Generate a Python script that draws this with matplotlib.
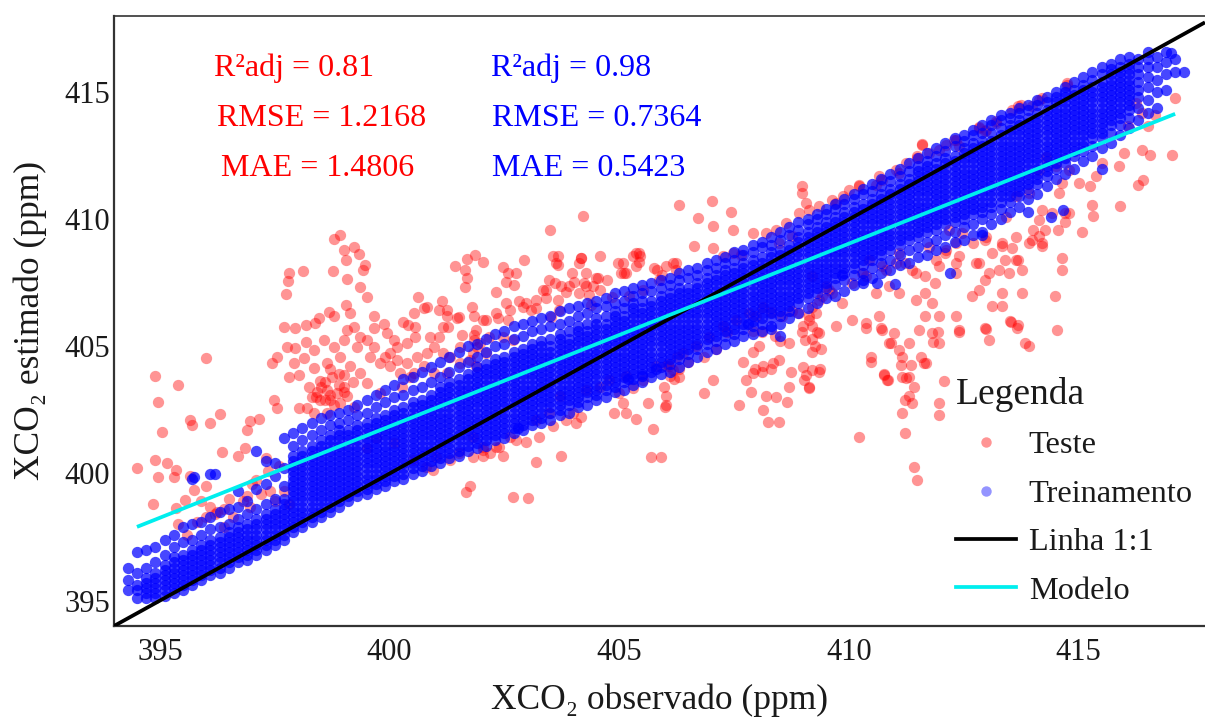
import matplotlib
matplotlib.use("Agg")
import matplotlib.pyplot as plt
from matplotlib.lines import Line2D

plt.rcParams['font.family'] = ['Liberation Serif', 'DejaVu Serif']

# ---------------- data ----------------
# Training points: (observed x, [estimated y values]) by column
train_cols = [
    (394.3, [395.4, 395.8, 396.3]),
    (394.5, [395.1, 395.4, 395.6, 396.1, 396.9]),
    (394.7, [395.1, 395.3, 395.5, 395.7, 395.9, 396.3, 397.0]),
    (394.9, [395.1, 395.3, 395.5, 395.7, 395.9, 396.1, 396.5, 397.1]),
    (395.1, [395.2, 395.4, 395.6, 395.8, 396.0, 396.2, 396.4, 396.8, 397.4]),
    (395.3, [395.3, 395.5, 395.7, 395.9, 396.1, 396.3, 396.5, 396.7, 397.1, 397.6]),
    (395.5, [395.4, 395.6, 395.8, 396.0, 396.2, 396.4, 396.6, 396.8, 397.3, 397.9]),
    (395.7, [395.6, 395.8, 396.0, 396.2, 396.4, 396.6, 396.8, 397.0, 397.4, 398.0, 399.8]),
    (395.9, [395.8, 396.0, 396.2, 396.4, 396.6, 396.8, 397.0, 397.2, 397.6, 398.1]),
    (396.1, [396.0, 396.2, 396.4, 396.6, 396.8, 397.0, 397.2, 397.4, 397.8, 398.3, 400.0]),
    (396.3, [396.1, 396.3, 396.5, 396.7, 396.9, 397.1, 397.3, 397.5, 397.9, 398.5]),
    (396.5, [396.3, 396.5, 396.7, 396.9, 397.1, 397.3, 397.5, 397.7, 398.0, 398.6]),
    (396.7, [396.5, 396.7, 396.9, 397.1, 397.3, 397.5, 397.7, 397.9, 398.2, 398.7, 399.3]),
    (396.9, [396.6, 396.8, 397.0, 397.2, 397.4, 397.6, 397.8, 398.0, 398.4, 398.9]),
    (397.1, [396.8, 397.0, 397.2, 397.4, 397.6, 397.8, 398.0, 398.2, 398.6, 399.4, 400.9]),
    (397.3, [397.0, 397.2, 397.4, 397.6, 397.8, 398.0, 398.2, 398.4, 398.8, 399.6, 400.5]),
    (397.5, [397.2, 397.4, 397.6, 397.8, 398.0, 398.2, 398.4, 398.6, 399.0, 399.9, 400.4]),
    (397.7, [397.4, 397.6, 397.8, 398.0, 398.2, 398.4, 398.6, 398.8, 399.0, 399.5, 400.2, 401.4]),
    (397.9, [397.7, 397.9, 398.1, 398.3, 398.5, 398.7, 398.9, 399.1, 399.3, 399.5, 399.7, 399.9, 400.1, 400.3, 400.5, 400.7, 401.1, 401.6]),
    (398.1, [397.9, 398.1, 398.3, 398.5, 398.7, 398.9, 399.1, 399.3, 399.5, 399.7, 399.9, 400.1, 400.3, 400.5, 400.7, 400.9, 401.3, 401.8]),
    (398.3, [398.1, 398.3, 398.5, 398.7, 398.9, 399.1, 399.3, 399.5, 399.7, 399.9, 400.1, 400.3, 400.5, 400.7, 400.9, 401.1, 401.5, 402.0]),
    (398.5, [398.3, 398.5, 398.7, 398.9, 399.1, 399.3, 399.5, 399.7, 399.9, 400.1, 400.3, 400.5, 400.7, 400.9, 401.1, 401.3, 401.7, 402.2]),
    (398.7, [398.5, 398.7, 398.9, 399.1, 399.3, 399.5, 399.7, 399.9, 400.1, 400.3, 400.5, 400.7, 400.9, 401.1, 401.3, 401.5, 401.9, 402.3]),
    (398.9, [398.7, 398.9, 399.1, 399.3, 399.5, 399.7, 399.9, 400.1, 400.3, 400.5, 400.7, 400.9, 401.1, 401.3, 401.5, 401.7, 402.0, 402.4]),
    (399.1, [398.9, 399.1, 399.3, 399.5, 399.7, 399.9, 400.1, 400.3, 400.5, 400.7, 400.9, 401.1, 401.3, 401.5, 401.7, 402.1, 402.5]),
    (399.3, [399.1, 399.3, 399.5, 399.7, 399.9, 400.1, 400.3, 400.5, 400.7, 400.9, 401.1, 401.3, 401.5, 401.7, 401.9, 402.3, 402.7]),
    (399.5, [399.2, 399.4, 399.6, 399.8, 400.0, 400.2, 400.4, 400.6, 400.8, 401.0, 401.2, 401.4, 401.6, 401.8, 402.0, 402.4, 402.9]),
    (399.7, [399.4, 399.6, 399.8, 400.0, 400.2, 400.4, 400.6, 400.8, 401.0, 401.2, 401.4, 401.6, 401.8, 402.0, 402.2, 402.6, 403.1]),
    (399.9, [399.5, 399.7, 399.9, 400.1, 400.3, 400.5, 400.7, 400.9, 401.1, 401.3, 401.5, 401.7, 401.9, 402.1, 402.3, 402.8, 403.3]),
    (400.1, [399.7, 399.9, 400.1, 400.3, 400.5, 400.7, 400.9, 401.1, 401.3, 401.5, 401.7, 401.9, 402.1, 402.3, 402.5, 403.0, 403.5]),
    (400.3, [399.8, 400.0, 400.2, 400.4, 400.6, 400.8, 401.0, 401.2, 401.4, 401.6, 401.8, 402.0, 402.2, 402.4, 402.6, 403.1, 403.7]),
    (400.5, [400.0, 400.2, 400.4, 400.6, 400.8, 401.0, 401.2, 401.4, 401.6, 401.8, 402.0, 402.2, 402.4, 402.6, 402.8, 403.3, 403.8]),
    (400.7, [400.1, 400.3, 400.5, 400.7, 400.9, 401.1, 401.3, 401.5, 401.7, 401.9, 402.1, 402.3, 402.5, 402.7, 402.9, 403.4, 404.0]),
    (400.9, [400.3, 400.5, 400.7, 400.9, 401.1, 401.3, 401.5, 401.7, 401.9, 402.1, 402.3, 402.5, 402.7, 402.9, 403.1, 403.6, 404.2]),
    (401.1, [400.4, 400.6, 400.8, 401.0, 401.2, 401.4, 401.6, 401.8, 402.0, 402.2, 402.4, 402.6, 402.8, 403.0, 403.2, 403.4, 403.8, 404.4]),
    (401.3, [400.6, 400.8, 401.0, 401.2, 401.4, 401.6, 401.8, 402.0, 402.2, 402.4, 402.6, 402.8, 403.0, 403.2, 403.4, 403.6, 404.0, 404.6]),
    (401.5, [400.7, 400.9, 401.1, 401.3, 401.5, 401.7, 401.9, 402.1, 402.3, 402.5, 402.7, 402.9, 403.1, 403.3, 403.5, 403.7, 404.2, 404.8]),
    (401.7, [400.9, 401.1, 401.3, 401.5, 401.7, 401.9, 402.1, 402.3, 402.5, 402.7, 402.9, 403.1, 403.3, 403.5, 403.7, 403.9, 404.4, 405.0]),
    (401.9, [401.0, 401.2, 401.4, 401.6, 401.8, 402.0, 402.2, 402.4, 402.6, 402.8, 403.0, 403.2, 403.4, 403.6, 403.8, 404.0, 404.2, 404.6, 405.1]),
    (402.1, [401.1, 401.3, 401.5, 401.7, 401.9, 402.1, 402.3, 402.5, 402.7, 402.9, 403.1, 403.3, 403.5, 403.7, 403.9, 404.1, 404.3, 404.8, 405.3]),
    (402.3, [401.3, 401.5, 401.7, 401.9, 402.1, 402.3, 402.5, 402.7, 402.9, 403.1, 403.3, 403.5, 403.7, 403.9, 404.1, 404.3, 404.5, 405.0, 405.5]),
    (402.5, [401.4, 401.6, 401.8, 402.0, 402.2, 402.4, 402.6, 402.8, 403.0, 403.2, 403.4, 403.6, 403.8, 404.0, 404.2, 404.4, 404.6, 405.1, 405.6]),
    (402.7, [401.6, 401.8, 402.0, 402.2, 402.4, 402.6, 402.8, 403.0, 403.2, 403.4, 403.6, 403.8, 404.0, 404.2, 404.4, 404.6, 404.8, 405.3, 405.8]),
    (402.9, [401.7, 401.9, 402.1, 402.3, 402.5, 402.7, 402.9, 403.1, 403.3, 403.5, 403.7, 403.9, 404.1, 404.3, 404.5, 404.7, 404.9, 405.4, 405.9]),
    (403.1, [401.9, 402.1, 402.3, 402.5, 402.7, 402.9, 403.1, 403.3, 403.5, 403.7, 403.9, 404.1, 404.3, 404.5, 404.7, 404.9, 405.1, 405.6, 406.0]),
    (403.3, [402.0, 402.2, 402.4, 402.6, 402.8, 403.0, 403.2, 403.4, 403.6, 403.8, 404.0, 404.2, 404.4, 404.6, 404.8, 405.0, 405.2, 405.7, 406.1]),
    (403.5, [402.1, 402.4, 402.6, 402.8, 403.0, 403.2, 403.4, 403.6, 403.8, 404.0, 404.2, 404.4, 404.6, 404.8, 405.0, 405.3, 405.8, 406.2]),
    (403.7, [402.3, 402.5, 402.7, 402.9, 403.1, 403.3, 403.5, 403.7, 403.9, 404.1, 404.3, 404.5, 404.7, 404.9, 405.1, 405.3, 405.5, 405.9, 406.4]),
    (403.9, [402.4, 402.7, 402.9, 403.1, 403.3, 403.5, 403.7, 403.9, 404.1, 404.3, 404.5, 404.7, 404.9, 405.1, 405.3, 405.6, 406.0, 406.5]),
    (404.1, [402.6, 402.8, 403.0, 403.2, 403.4, 403.6, 403.8, 404.0, 404.2, 404.4, 404.6, 404.8, 405.0, 405.2, 405.4, 405.6, 405.8, 406.2, 406.6]),
    (404.3, [402.7, 403.0, 403.2, 403.4, 403.6, 403.8, 404.0, 404.2, 404.4, 404.6, 404.8, 405.0, 405.2, 405.4, 405.6, 405.9, 406.3, 406.7]),
    (404.5, [402.9, 403.1, 403.3, 403.5, 403.7, 403.9, 404.1, 404.3, 404.5, 404.7, 404.9, 405.1, 405.3, 405.5, 405.7, 405.9, 406.1, 406.5, 406.8]),
    (404.7, [403.0, 403.3, 403.5, 403.7, 403.9, 404.1, 404.3, 404.5, 404.7, 404.9, 405.1, 405.3, 405.5, 405.7, 405.9, 406.2, 406.6, 406.9]),
    (404.9, [403.2, 403.4, 403.6, 403.8, 404.0, 404.2, 404.4, 404.6, 404.8, 405.0, 405.2, 405.4, 405.6, 405.8, 406.0, 406.2, 406.4, 406.7, 407.1]),
    (405.1, [403.3, 403.6, 403.8, 404.0, 404.2, 404.4, 404.6, 404.8, 405.0, 405.2, 405.4, 405.6, 405.8, 406.0, 406.2, 406.5, 406.8, 407.2]),
    (405.3, [403.5, 403.7, 403.9, 404.1, 404.3, 404.5, 404.7, 404.9, 405.1, 405.3, 405.5, 405.7, 405.9, 406.1, 406.3, 406.5, 406.7, 407.0, 407.3]),
    (405.5, [403.6, 403.9, 404.1, 404.3, 404.5, 404.7, 404.9, 405.1, 405.3, 405.5, 405.7, 405.9, 406.1, 406.3, 406.5, 406.8, 407.1, 407.4]),
    (405.7, [403.8, 404.0, 404.2, 404.4, 404.6, 404.8, 405.0, 405.2, 405.4, 405.6, 405.8, 406.0, 406.2, 406.4, 406.6, 406.8, 407.2, 407.5]),
    (405.9, [403.9, 404.2, 404.4, 404.6, 404.8, 405.0, 405.2, 405.4, 405.6, 405.8, 406.0, 406.2, 406.4, 406.6, 406.8, 407.0, 407.3, 407.6]),
    (406.1, [404.0, 404.3, 404.5, 404.7, 404.9, 405.1, 405.3, 405.5, 405.7, 405.9, 406.1, 406.3, 406.5, 406.7, 406.9, 407.1, 407.4, 407.7]),
    (406.3, [404.2, 404.5, 404.7, 404.9, 405.1, 405.3, 405.5, 405.7, 405.9, 406.1, 406.3, 406.5, 406.7, 406.9, 407.1, 407.3, 407.6, 407.9]),
    (406.5, [404.4, 404.7, 404.9, 405.1, 405.3, 405.5, 405.7, 405.9, 406.1, 406.3, 406.5, 406.7, 406.9, 407.1, 407.3, 407.7, 408.0]),
    (406.7, [404.6, 404.9, 405.1, 405.3, 405.5, 405.7, 405.9, 406.1, 406.3, 406.5, 406.7, 406.9, 407.1, 407.3, 407.5, 407.8, 408.1]),
    (406.9, [404.8, 405.1, 405.3, 405.5, 405.7, 405.9, 406.1, 406.3, 406.5, 406.7, 406.9, 407.1, 407.3, 407.5, 407.7, 408.0, 408.3]),
    (407.1, [404.9, 405.2, 405.4, 405.6, 405.8, 406.0, 406.2, 406.4, 406.6, 406.8, 407.0, 407.2, 407.4, 407.6, 407.8, 408.1, 408.4]),
    (407.3, [405.1, 405.4, 405.6, 405.8, 406.0, 406.2, 406.4, 406.6, 406.8, 407.0, 407.2, 407.4, 407.6, 407.8, 408.0, 408.3, 408.5]),
    (407.5, [405.2, 405.5, 405.7, 405.9, 406.1, 406.3, 406.5, 406.7, 406.9, 407.1, 407.3, 407.5, 407.7, 407.9, 408.1, 408.4, 408.7]),
    (407.7, [405.4, 405.7, 405.9, 406.1, 406.3, 406.5, 406.7, 406.9, 407.1, 407.3, 407.5, 407.7, 407.9, 408.1, 408.3, 408.6, 408.8]),
    (407.9, [405.5, 405.8, 406.0, 406.2, 406.4, 406.6, 406.8, 407.0, 407.2, 407.4, 407.6, 407.8, 408.0, 408.2, 408.4, 408.7, 409.0]),
    (408.1, [405.6, 405.9, 406.1, 406.3, 406.5, 406.7, 406.9, 407.1, 407.3, 407.5, 407.7, 407.9, 408.1, 408.3, 408.5, 408.9, 409.1]),
    (408.3, [405.8, 406.1, 406.3, 406.5, 406.7, 406.9, 407.1, 407.3, 407.5, 407.7, 407.9, 408.1, 408.3, 408.5, 408.7, 409.0, 409.3]),
    (408.5, [405.4, 405.9, 406.2, 406.4, 406.6, 406.8, 407.0, 407.2, 407.4, 407.6, 407.8, 408.0, 408.2, 408.4, 408.6, 408.8, 409.2, 409.5]),
    (408.7, [406.1, 406.4, 406.6, 406.8, 407.0, 407.2, 407.4, 407.6, 407.8, 408.0, 408.2, 408.4, 408.6, 408.8, 409.0, 409.4, 409.7]),
    (408.9, [406.3, 406.7, 406.9, 407.1, 407.3, 407.5, 407.7, 407.9, 408.1, 408.3, 408.5, 408.7, 408.9, 409.1, 409.3, 409.6, 409.9]),
    (409.1, [406.5, 406.9, 407.1, 407.3, 407.5, 407.7, 407.9, 408.1, 408.3, 408.5, 408.7, 408.9, 409.1, 409.3, 409.5, 409.8, 410.0]),
    (409.3, [406.7, 407.1, 407.3, 407.5, 407.7, 407.9, 408.1, 408.3, 408.5, 408.7, 408.9, 409.1, 409.3, 409.5, 409.7, 410.0, 410.2]),
    (409.5, [406.9, 407.3, 407.5, 407.7, 407.9, 408.1, 408.3, 408.5, 408.7, 408.9, 409.1, 409.3, 409.5, 409.7, 409.9, 410.2, 410.4]),
    (409.7, [407.0, 407.4, 407.7, 407.9, 408.1, 408.3, 408.5, 408.7, 408.9, 409.1, 409.3, 409.5, 409.7, 409.9, 410.1, 410.4, 410.6]),
    (409.9, [407.2, 407.6, 407.9, 408.1, 408.3, 408.5, 408.7, 408.9, 409.1, 409.3, 409.5, 409.7, 409.9, 410.1, 410.3, 410.6, 410.8]),
    (410.1, [407.4, 407.8, 408.1, 408.3, 408.5, 408.7, 408.9, 409.1, 409.3, 409.5, 409.7, 409.9, 410.1, 410.3, 410.5, 410.8, 411.0]),
    (410.3, [407.6, 407.9, 408.2, 408.4, 408.6, 408.8, 409.0, 409.2, 409.4, 409.6, 409.8, 410.0, 410.2, 410.4, 410.6, 411.0, 411.2]),
    (410.5, [407.7, 408.1, 408.4, 408.6, 408.8, 409.0, 409.2, 409.4, 409.6, 409.8, 410.0, 410.2, 410.4, 410.6, 410.8, 411.1, 411.4]),
    (410.7, [407.9, 408.3, 408.6, 408.8, 409.0, 409.2, 409.4, 409.6, 409.8, 410.0, 410.2, 410.4, 410.6, 410.8, 411.0, 411.3, 411.6]),
    (410.9, [408.0, 408.4, 408.8, 409.0, 409.2, 409.4, 409.6, 409.8, 410.0, 410.2, 410.4, 410.6, 410.8, 411.0, 411.2, 411.5, 411.8]),
    (411.1, [408.2, 408.6, 409.0, 409.2, 409.4, 409.6, 409.8, 410.0, 410.2, 410.4, 410.6, 410.8, 411.0, 411.2, 411.4, 411.7, 412.0]),
    (411.3, [408.3, 408.8, 409.2, 409.4, 409.6, 409.8, 410.0, 410.2, 410.4, 410.6, 410.8, 411.0, 411.2, 411.4, 411.6, 411.9, 412.2]),
    (411.5, [408.5, 408.9, 409.3, 409.5, 409.7, 409.9, 410.1, 410.3, 410.5, 410.7, 410.9, 411.1, 411.3, 411.5, 411.7, 411.9, 412.1, 412.4]),
    (411.7, [408.6, 409.1, 409.5, 409.7, 409.9, 410.1, 410.3, 410.5, 410.7, 410.9, 411.1, 411.3, 411.5, 411.7, 411.9, 412.1, 412.3, 412.6]),
    (411.9, [408.8, 409.2, 409.6, 409.8, 410.0, 410.2, 410.4, 410.6, 410.8, 411.0, 411.2, 411.4, 411.6, 411.8, 412.0, 412.2, 412.5, 412.8]),
    (412.1, [408.9, 409.4, 409.8, 410.0, 410.2, 410.4, 410.6, 410.8, 411.0, 411.2, 411.4, 411.6, 411.8, 412.0, 412.2, 412.4, 412.7, 413.0]),
    (412.3, [409.1, 409.5, 409.9, 410.1, 410.3, 410.5, 410.7, 410.9, 411.1, 411.3, 411.5, 411.7, 411.9, 412.1, 412.3, 412.5, 412.9, 413.2]),
    (412.5, [409.2, 409.7, 410.0, 410.2, 410.4, 410.6, 410.8, 411.0, 411.2, 411.4, 411.6, 411.8, 412.0, 412.2, 412.4, 412.6, 412.8, 413.1, 413.3]),
    (412.7, [409.4, 409.8, 410.2, 410.4, 410.6, 410.8, 411.0, 411.2, 411.4, 411.6, 411.8, 412.0, 412.2, 412.4, 412.6, 412.8, 413.0, 413.3, 413.5]),
    (412.9, [409.5, 410.0, 410.3, 410.5, 410.7, 410.9, 411.1, 411.3, 411.5, 411.7, 411.9, 412.1, 412.3, 412.5, 412.7, 412.9, 413.1, 413.4, 413.7]),
    (413.1, [409.8, 410.2, 410.5, 410.7, 410.9, 411.1, 411.3, 411.5, 411.7, 411.9, 412.1, 412.3, 412.5, 412.7, 412.9, 413.1, 413.4, 413.7, 413.9]),
    (413.3, [410.0, 410.4, 410.7, 410.9, 411.1, 411.3, 411.5, 411.7, 411.9, 412.1, 412.3, 412.5, 412.7, 412.9, 413.1, 413.3, 413.6, 413.9, 414.1]),
    (413.5, [410.3, 410.7, 410.9, 411.1, 411.3, 411.5, 411.7, 411.9, 412.1, 412.3, 412.5, 412.7, 412.9, 413.1, 413.3, 413.5, 413.7, 414.0, 414.2]),
    (413.7, [410.5, 410.9, 411.1, 411.3, 411.5, 411.7, 411.9, 412.1, 412.3, 412.5, 412.7, 412.9, 413.1, 413.3, 413.5, 413.7, 413.9, 414.2, 414.4]),
    (413.9, [410.8, 411.2, 411.4, 411.6, 411.8, 412.0, 412.2, 412.4, 412.6, 412.8, 413.0, 413.2, 413.4, 413.6, 413.8, 414.0, 414.3, 414.5]),
    (414.1, [411.0, 411.4, 411.6, 411.8, 412.0, 412.2, 412.4, 412.6, 412.8, 413.0, 413.2, 413.4, 413.6, 413.8, 414.0, 414.2, 414.5, 414.7]),
    (414.3, [411.3, 411.7, 411.9, 412.1, 412.3, 412.5, 412.7, 412.9, 413.1, 413.3, 413.5, 413.7, 413.9, 414.1, 414.3, 414.6, 414.8]),
    (414.5, [411.6, 412.0, 412.2, 412.4, 412.6, 412.8, 413.0, 413.2, 413.4, 413.6, 413.8, 414.0, 414.2, 414.4, 414.6, 414.8, 415.0]),
    (414.7, [411.8, 412.2, 412.4, 412.6, 412.8, 413.0, 413.2, 413.4, 413.6, 413.8, 414.0, 414.2, 414.4, 414.6, 414.8, 415.0, 415.2]),
    (414.9, [412.0, 412.5, 412.7, 412.9, 413.1, 413.3, 413.5, 413.7, 413.9, 414.1, 414.3, 414.5, 414.7, 414.9, 415.1, 415.4]),
    (415.1, [412.3, 412.7, 412.9, 413.1, 413.3, 413.5, 413.7, 413.9, 414.1, 414.3, 414.5, 414.7, 414.9, 415.1, 415.3, 415.6]),
    (415.3, [412.5, 412.9, 413.2, 413.4, 413.6, 413.8, 414.0, 414.2, 414.4, 414.6, 414.8, 415.0, 415.2, 415.5, 415.8]),
    (415.5, [412.8, 413.2, 413.4, 413.6, 413.8, 414.0, 414.2, 414.4, 414.6, 414.8, 415.0, 415.2, 415.4, 415.7, 416.0]),
    (415.7, [413.0, 413.4, 413.7, 413.9, 414.1, 414.3, 414.5, 414.7, 414.9, 415.1, 415.3, 415.5, 415.7, 415.9, 416.1]),
    (415.9, [413.3, 413.7, 414.0, 414.2, 414.4, 414.6, 414.8, 415.0, 415.2, 415.4, 415.6, 415.8, 416.0, 416.3]),
    (416.1, [413.6, 414.0, 414.3, 414.5, 414.7, 414.9, 415.1, 415.3, 415.5, 415.7, 415.9, 416.1, 416.4]),
    (416.3, [413.9, 414.4, 414.8, 415.1, 415.4, 415.7, 416.0, 416.3]),
    (416.5, [414.2, 414.7, 415.2, 415.6, 416.0, 416.3, 416.6]),
    (416.7, [414.4, 415.0, 415.5, 416.0, 416.4]),
    (416.9, [415.1, 415.7, 416.2, 416.6]),
    (417.1, [415.8, 416.3]),
]
train_extra = [
    (409.85, 407.8), (410.3, 407.5), (411.0, 407.45), (412.2, 407.9), (410.6, 407.5),
    (413.9, 410.3), (414.65, 410.35), (415.5, 412.0), (414.4, 410.1), (412.9, 409.4),
    (408.3, 405.7), (407.8, 405.9), (405.8, 404.1), (405.5, 403.85), (405.2, 403.7),
    (402.8, 401.8), (417.3, 415.8), (417.0, 416.55), (396.2, 400.0), (395.75, 399.85),
]

test_left = [
    (394.9, 403.85), (395.4, 403.5), (396.0, 404.55), (394.95, 402.8), (395.65, 402.1),
    (395.7, 401.9), (396.3, 402.35), (396.1, 402.0), (395.05, 401.65), (396.95, 402.05),
    (397.15, 402.15), (396.9, 401.7), (396.35, 400.85), (396.7, 400.7), (396.85, 401.0),
    (394.9, 400.55), (395.15, 400.4), (395.35, 400.15), (394.5, 400.2), (394.95, 399.85),
    (395.3, 399.85), (395.65, 399.9), (395.75, 399.35), (396.0, 399.5), (394.85, 398.8),
    (395.55, 398.95), (395.35, 398.65), (396.1, 398.7), (396.25, 398.5), (396.9, 399.1),
    (397.1, 399.75), (397.35, 400.1), (396.95, 398.7), (395.4, 398.0), (395.8, 398.1),
    (396.0, 398.3), (396.2, 398.4), (396.4, 398.6), (396.6, 398.3), (395.6, 397.6),
    (396.4, 397.9), (396.8, 398.9), (397.2, 399.2), (397.5, 398.9), (397.0, 399.6),
    (397.4, 399.3), (397.7, 399.3), (397.8, 398.8), (396.5, 399.0), (395.9, 398.9),
    (397.3, 400.6), (397.6, 400.3),
]
test_cloud = [
    (398.78, 409.22), (398.93, 409.39), (399.0, 408.8), (399.22, 408.93), (399.33, 408.64),
    (399.06, 408.41), (399.47, 408.21), (399.43, 407.99), (398.76, 407.95), (399.07, 407.66),
    (399.35, 407.33), (399.51, 406.94), (397.8, 407.88), (398.12, 407.95), (397.78, 407.58),
    (397.75, 407.08), (400.61, 406.94), (401.43, 408.15), (401.68, 408.43), (401.86, 408.6),
    (401.64, 408.01), (401.68, 407.69), (401.64, 407.33), (401.14, 406.77), (400.81, 406.54),
    (400.52, 406.31), (401.25, 406.18), (401.5, 406.15), (401.07, 406.44), (399.04, 406.64),
    (399.14, 406.31), (398.67, 406.35), (398.78, 406.18), (398.46, 406.11), (398.38, 405.91),
    (398.17, 405.85), (397.7, 405.78), (397.95, 405.72), (399.22, 405.78), (399.65, 406.18),
    (399.87, 405.89), (399.65, 405.72), (400.3, 405.98), (400.41, 405.85), (400.74, 406.5),
    (401.25, 406.44), (401.46, 406.11), (401.83, 406.18), (401.79, 406.57), (401.28, 405.78),
    (401.07, 405.39), (401.57, 405.46), (401.83, 405.46), (400.96, 404.99), (401.17, 404.73),
    (401.54, 404.99), (401.32, 404.6), (400.81, 404.73), (400.56, 405.39), (400.38, 405.13),
    (400.16, 404.99), (400.01, 404.73), (399.8, 404.34), (399.58, 404.6), (399.36, 405.39),
    (399.29, 404.99), (399.07, 405.65), (399.0, 405.26), (398.78, 404.99), (398.57, 405.26),
    (398.35, 404.86), (398.17, 405.19), (397.95, 404.93), (397.77, 404.99), (397.55, 404.6),
    (397.44, 404.34), (397.91, 404.34), (398.13, 404.53), (398.35, 404.14), (398.64, 404.34),
    (398.93, 404.6), (399.14, 404.21), (399.36, 403.95), (399.0, 403.88), (398.75, 403.81),
    (398.49, 403.62), (398.24, 403.42), (398.02, 403.88), (397.8, 403.81), (397.48, 402.9),
    (397.55, 402.57), (398.02, 402.57), (398.2, 402.57), (398.42, 403.22), (398.64, 403.29),
    (398.86, 403.16), (399.0, 403.42), (399.07, 403.03), (398.93, 402.77), (398.71, 402.9),
    (398.49, 402.9), (398.35, 402.37), (398.64, 402.37), (399.22, 402.63), (399.51, 403.55),
    (399.8, 403.16), (400.01, 404.21), (400.23, 403.95), (400.52, 403.95), (400.74, 404.21),
    (400.96, 403.95), (401.25, 403.95), (401.54, 404.34), (401.75, 404.47), (401.83, 405.26),
    (401.9, 404.99), (400.16, 404.47), (400.38, 404.34), (400.27, 403.42), (400.45, 403.81),
    (400.56, 405.78), (400.09, 405.26), (400.88, 405.39), (401.17, 405.78), (400.59, 404.6),
    (399.65, 404.99), (399.51, 405.26), (399.94, 405.52), (399.91, 404.6),
    (398.5, 403.4), (398.7, 403.1), (398.9, 403.5), (398.6, 402.9), (398.8, 402.7),
    (398.4, 403.0), (399.0, 403.2), (398.6, 403.6), (398.3, 403.0), (398.9, 403.9),
    (398.7, 404.1), (399.2, 403.6), (399.7, 401.4), (399.5, 401.0), (400.1, 401.2),
]
test_upper = [
    (402.46, 408.14), (402.57, 407.88), (402.75, 407.88), (402.93, 408.41), (402.71, 407.42),
    (402.53, 407.55), (402.32, 407.16), (402.1, 406.04), (402.35, 406.11), (402.57, 406.04),
    (402.53, 406.7), (402.82, 406.77), (402.97, 406.7), (403.19, 406.5), (403.4, 406.9),
    (403.66, 406.83), (403.69, 406.44), (403.51, 406.17), (403.48, 407.62), (403.73, 407.36),
    (403.62, 408.27), (403.66, 408.54), (403.55, 408.54), (403.98, 407.88), (404.13, 408.27),
    (404.16, 408.47), (404.27, 407.88), (404.02, 407.55), (404.24, 407.49), (404.42, 407.36),
    (404.53, 407.68), (404.74, 407.62), (404.35, 407.03), (404.13, 407.09), (403.84, 407.16),
    (404.38, 406.63), (404.85, 406.96), (405.07, 408.27), (405.14, 407.88), (405.36, 408.67),
    (405.43, 408.34), (405.29, 408.54), (405.83, 408.01), (405.94, 407.81), (406.16, 408.27),
    (406.23, 408.01), (405.87, 407.62), (403.33, 407.22), (403.08, 406.44),
    (402.03, 408.34), (404.49, 407.69), (405.04, 407.88), (405.36, 408.15), (405.76, 408.08),
    (405.51, 407.23), (405.22, 406.97), (404.57, 407.23), (404.28, 407.36), (403.91, 407.36),
    (403.59, 407.49), (403.41, 407.23), (403.19, 406.84), (402.9, 406.57), (402.61, 406.44),
    (402.32, 406.31), (402.03, 406.05), (401.88, 405.65), (402.17, 405.39), (402.46, 405.39),
    (402.68, 405.26), (401.96, 405.13), (401.81, 404.74), (402.1, 404.74), (401.88, 404.21),
    (408.97, 411.3), (408.97, 411.04), (406.31, 410.58), (407.01, 410.71), (406.71, 410.05),
    (407.43, 410.28), (407.03, 409.75), (407.47, 409.6), (409.06, 410.64), (404.2, 410.15),
    (403.5, 409.6), (406.63, 408.94), (407.03, 408.87), (405.42, 408.68), (404.97, 408.28),
    (404.57, 408.54), (405.11, 407.89), (405.44, 408.54), (404.17, 408.48), (403.66, 408.22),
    (406.02, 408.15), (406.23, 408.28), (407.25, 408.54), (407.47, 408.68), (407.65, 408.61),
    (407.9, 409.46), (408.19, 409.46), (408.41, 409.6), (408.63, 409.86), (408.92, 410.25),
    (409.13, 410.38), (408.77, 409.33), (408.48, 409.07),
]
test_lower_mid = [
    (401.67, 399.29), (401.74, 399.51), (402.68, 399.06), (403.01, 399.02), (403.73, 400.7),
    (403.18, 400.47), (405.69, 400.66), (405.91, 400.66), (405.73, 401.74), (404.89, 402.37),
    (405.15, 402.37), (405.36, 402.13), (405.08, 402.79), (405.62, 402.79), (406.02, 402.7),
    (406.02, 403.05), (405.98, 403.42), (406.85, 403.18), (407.03, 403.68), (407.61, 402.7),
    (408.12, 402.5), (408.23, 402.04), (408.48, 402.04), (408.66, 402.83), (408.41, 403.0),
    (408.19, 403.05), (407.87, 403.2), (407.76, 403.66), (408.7, 403.42), (409.02, 403.68),
    (409.13, 403.35), (408.73, 404.01),
    (400.94, 400.14), (400.8, 400.27), (402.03, 400.93), (402.18, 400.8), (402.39, 401.06),
    (402.61, 401.45), (402.76, 401.32), (403.84, 402.11), (404.06, 401.98), (404.17, 402.24),
    (401.81, 400.66), (401.52, 400.8), (400.51, 400.53), (401.02, 400.66), (401.31, 400.53),
    (403.55, 401.85), (403.26, 401.45), (402.97, 401.25), (406.16, 404.08), (406.31, 403.81),
    (406.02, 404.21), (407.9, 403.95), (408.12, 404.21), (408.34, 404.34), (409.06, 403.88),
    (408.48, 404.47),
    (401.81, 401.45), (402.03, 401.06), (402.32, 401.06), (402.46, 400.67), (402.03, 400.67),
    (403.19, 402.11), (403.48, 402.37), (403.99, 402.37), (403.7, 403.03), (404.28, 403.29),
    (404.57, 403.42), (404.78, 403.69), (405.15, 403.82), (405.0, 403.16), (405.29, 403.36),
    (405.51, 403.69), (405.8, 404.21), (406.09, 404.21), (406.38, 404.74), (406.67, 405.0),
    (406.96, 405.39), (407.25, 405.79), (407.54, 406.05), (407.83, 406.31), (408.12, 406.57),
    (407.97, 406.18), (408.91, 406.31), (409.2, 406.57), (409.42, 406.97), (409.57, 407.23),
    (409.28, 406.31), (409.13, 406.05), (408.99, 405.79),
    (408.1, 404.0), (408.3, 404.1), (407.95, 404.1), (407.7, 404.4), (407.9, 404.8),
    (408.05, 405.0), (409.37, 404.1), (409.0, 404.2), (409.2, 404.8), (409.4, 404.9),
    (409.2, 405.3), (408.98, 405.55), (409.3, 405.55), (409.2, 405.8), (408.5, 405.2),
    (408.4, 405.4), (408.7, 405.15), (408.55, 406.2), (408.75, 406.4), (408.3, 406.35),
    (408.1, 405.55), (407.9, 405.6), (407.35, 405.55), (407.1, 404.9), (406.85, 404.6),
    (406.5, 404.4), (406.3, 404.1), (406.1, 403.85), (406.05, 404.3), (406.25, 404.6),
    (406.2, 403.7), (406.0, 402.6),
]
test_right = [
    (417.1, 414.78), (417.03, 412.55), (416.56, 412.55), (416.37, 412.74), (416.41, 411.56),
    (416.3, 411.37), (415.98, 412.61), (415.87, 412.09), (415.9, 410.51), (415.29, 410.58),
    (415.32, 410.12), (415.07, 409.49), (416.08, 413.66), (416.52, 413.66), (416.66, 414.12),
    (414.49, 406.97), (414.63, 408.02), (414.63, 408.48), (414.53, 405.66), (415.0, 411.43),
    (415.25, 411.3), (414.74, 415.3), (413.55, 414.32), (413.69, 414.45), (411.59, 412.98),
    (411.48, 412.48), (412.28, 413.14), (412.39, 412.88), (411.95, 412.74), (412.82, 413.6),
    (412.97, 413.47), (413.19, 413.79), (414.13, 414.71), (413.98, 414.45), (410.21, 411.3),
    (410.0, 411.17), (410.58, 411.37), (410.72, 411.56), (411.08, 411.83), (409.63, 410.78),
    (409.34, 410.51),
    (414.13, 409.99), (414.42, 410.25), (414.71, 410.25), (414.27, 409.59), (414.56, 409.59),
    (414.13, 409.33), (413.98, 409.2), (414.2, 408.94), (413.55, 408.87), (413.4, 408.41),
    (413.69, 408.41), (413.33, 408.94), (413.11, 408.68), (412.97, 409.2), (412.82, 408.28),
    (413.26, 408.02), (413.48, 407.89), (412.97, 407.63), (412.82, 407.23), (412.68, 406.97),
    (413.33, 407.1), (413.77, 407.1), (413.11, 406.58), (413.33, 406.58), (413.51, 405.99),
    (413.69, 405.86), (413.84, 405.13), (413.91, 405.0), (413.04, 405.26), (412.97, 405.72),
    (412.39, 405.66), (412.32, 406.18), (412.32, 407.89), (412.39, 408.54), (412.32, 409.07),
    (412.1, 408.68), (411.95, 408.15), (411.66, 407.76), (411.88, 407.5), (411.66, 407.1),
    (411.45, 406.84), (411.81, 406.71), (411.95, 406.18), (411.66, 406.18), (411.52, 405.66),
    (411.81, 405.53), (411.95, 405.13), (411.3, 405.13), (411.08, 404.87), (410.87, 405.13),
    (410.65, 406.18), (410.72, 405.66), (410.36, 405.92), (410.07, 406.05), (409.85, 406.71),
    (409.71, 405.79), (409.34, 405.53), (409.27, 405.0), (409.05, 405.26), (410.58, 407.1),
    (410.87, 407.36), (411.08, 407.1), (410.72, 408.15), (411.23, 408.28), (411.08, 408.68),
    (411.45, 407.89), (410.36, 407.76), (410.07, 407.5), (409.63, 407.1), (409.49, 407.36),
    (409.2, 407.76), (409.34, 406.84), (409.13, 406.18),
    (411.96, 402.76), (411.96, 402.3), (411.42, 400.27), (411.47, 399.75), (411.22, 401.61),
    (410.21, 401.45), (411.15, 402.37), (411.38, 402.76), (411.42, 403.39), (411.24, 403.75),
    (411.13, 404.27), (411.35, 404.27), (410.77, 403.92), (410.84, 403.68), (411.67, 404.34),
    (411.31, 403.03), (409.2, 404.08), (409.34, 404.01), (409.13, 403.42), (410.47, 404.4),
    (410.76, 403.88), (410.83, 403.68), (411.63, 404.34), (411.16, 403.81), (411.3, 403.81),
    (411.23, 402.9), (412.06, 403.62), (411.16, 404.6), (411.56, 404.6), (410.48, 404.6),
    (410.91, 405.15), (410.98, 405.52), (410.69, 405.72), (410.37, 405.72), (411.82, 405.19),
    (411.93, 405.58), (412.4, 405.58), (413.52, 405.98), (413.66, 405.72), (412.98, 405.69),
    (414.75, 415.36), (414.21, 414.77), (413.74, 414.51), (413.19, 413.85), (412.98, 413.52),
    (412.83, 413.65), (412.32, 413.13), (412.11, 412.93), (411.6, 412.93), (411.49, 412.41),
    (411.74, 412.6), (411.24, 412.21), (411.02, 411.95), (410.66, 411.69), (410.22, 411.36),
    (409.86, 410.9), (409.71, 410.64), (416.24, 414.57), (416.38, 414.18), (415.51, 412.21),
    (415.37, 411.69), (414.64, 411.42), (414.79, 411.95), (414.5, 412.08), (414.28, 412.47),
    (414.14, 411.95), (414.57, 411.03), (414.79, 410.24), (414.71, 409.91), (414.21, 410.37),
    (414.0, 409.59), (413.92, 409.06), (414.21, 409.06), (413.63, 409.32), (413.41, 410.11),
    (413.63, 410.9), (413.92, 411.03), (412.98, 409.32), (412.69, 409.06), (412.47, 409.45),
    (412.76, 408.27), (412.32, 408.27), (412.11, 408.8), (411.89, 408.41), (411.74, 408.93),
    (411.38, 408.01), (411.02, 408.27), (410.8, 408.01), (410.44, 408.41), (410.29, 407.88),
    (412.18, 409.59), (413.34, 409.06), (413.05, 407.88), (413.63, 408.4), (413.77, 408.01),
]

model_x = [394.5, 417.1]
model_y = [397.9, 414.15]
one_to_one = [394.0, 417.75]
x_ticks = [395, 400, 405, 410, 415]
y_ticks = [395, 400, 405, 410, 415]
stats_test = ["R²adj = 0.81", "RMSE = 1.2168", "MAE = 1.4806"]
stats_train = ["R²adj = 0.98", "RMSE = 0.7364", "MAE = 0.5423"]
legend_labels = ["Teste", "Treinamento", "Linha 1:1", "Modelo"]

# ---------------- build ----------------
train_x = [x for x, ys in train_cols for _ in ys] + [p[0] for p in train_extra]
train_y = [y for _, ys in train_cols for y in ys] + [p[1] for p in train_extra]
test_pts = test_left + test_cloud + test_upper + test_lower_mid + test_right
test_x = [p[0] for p in test_pts]
test_y = [p[1] for p in test_pts]

RED = '#FF0000'
BLUE = '#0000FF'
CYAN = '#00EEEE'
MS = 66

fig = plt.figure(figsize=(12.05, 7.22), dpi=100)
ax = fig.add_axes([114 / 1205, 96 / 722, 1 - 114 / 1205, 610 / 722])

ax.scatter(test_x, test_y, s=MS, color=RED, alpha=0.42, linewidths=0, zorder=2)
ax.scatter(train_x, train_y, s=MS, color=BLUE, alpha=0.72, linewidths=0, zorder=3)
ax.plot(one_to_one, one_to_one, color='black', lw=2.7, zorder=4, solid_capstyle='butt')
ax.plot(model_x, model_y, color=CYAN, lw=2.7, zorder=5, solid_capstyle='butt')

ax.set_xlim(394.0, 417.75)
ax.set_ylim(394.0, 418.0)
ax.set_xticks(x_ticks)
ax.set_yticks(y_ticks)
ax.tick_params(axis='both', length=0, labelsize=22, colors='#1a1a1a')
ax.tick_params(axis='x', pad=9)
ax.tick_params(axis='y', pad=3)
for side in ['left', 'bottom']:
    ax.spines[side].set_linewidth(1.6)
    ax.spines[side].set_color('#333333')
ax.spines['top'].set_linewidth(1.2)
ax.spines['top'].set_color('#333333')
ax.spines['right'].set_visible(False)

fig.text(659 / 1205, 1 - 700 / 722, "XCO₂ observado (ppm)", ha='center', va='center',
         fontsize=25.5, color='#1a1a1a')
fig.text(30 / 1205, 1 - 320 / 722, "XCO₂ estimado (ppm)", ha='center', va='center',
         rotation=90, fontsize=25.5, color='#1a1a1a')

xs_red = [214, 217, 221]
xs_blue = [491, 492, 492]
ys_txt = [68, 118, 168]
for i in range(3):
    fig.text(xs_red[i] / 1205, 1 - ys_txt[i] / 722, stats_test[i], color=RED,
             fontsize=23, ha='left', va='center')
    fig.text(xs_blue[i] / 1205, 1 - ys_txt[i] / 722, stats_train[i], color=BLUE,
             fontsize=23, ha='left', va='center')

handles = [
    Line2D([0], [0], marker='o', linestyle='none', markerfacecolor=RED,
           markeredgecolor='none', alpha=0.42, markersize=7.5),
    Line2D([0], [0], marker='o', linestyle='none', markerfacecolor=BLUE,
           markeredgecolor='none', alpha=0.42, markersize=7.5),
    Line2D([0], [0], color='black', lw=2.7),
    Line2D([0], [0], color=CYAN, lw=2.7),
]
leg = ax.legend(handles, legend_labels, title="Legenda", loc='upper left',
                bbox_to_anchor=(956 / 1205, 1 - 377 / 722), bbox_transform=fig.transFigure,
                frameon=False, fontsize=23.3, title_fontsize=27, handlelength=1.85,
                handletextpad=0.4, labelspacing=0.58, borderpad=0, borderaxespad=0,
                alignment='left')
for t in leg.get_texts():
    t.set_color('#1a1a1a')
leg.get_title().set_color('#1a1a1a')

fig.savefig("out.png", dpi=100)
